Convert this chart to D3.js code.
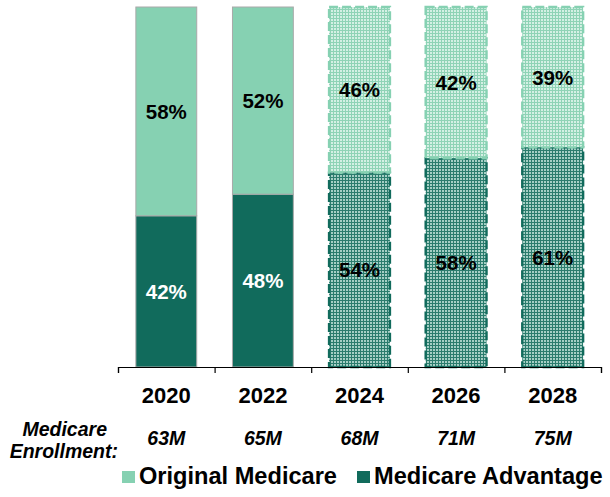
<!DOCTYPE html>
<html>
<head>
<meta charset="utf-8">
<script src="https://cdn.jsdelivr.net/npm/d3@7"></script>
<style>
  html, body { margin: 0; padding: 0; background: #fff; }
  svg { display: block; font-family: "Liberation Sans", Arial, sans-serif; }
</style>
</head>
<body>
<svg id="chart" width="610" height="497"></svg>
<script>
// Share of Medicare beneficiaries by coverage type, by year
const years = ["2020", "2022", "2024", "2026", "2028"];
const originalMedicare = [58, 52, 46, 42, 39];
const medicareAdvantage = [42, 48, 54, 58, 61];
const enrollment = ["63M", "65M", "68M", "71M", "75M"];
const projected = [false, false, true, true, true];
const seriesNames = ["Original Medicare", "Medicare Advantage"];

const colors = { om: "#86d1b2", ma: "#116b5c" };

const svg = d3.select("#chart");
const defs = svg.append("defs");

// Small-grid fills used for the projected years
function gridPattern(id, lineColor, cellColor) {
  const p = defs.append("pattern")
    .attr("id", id).attr("patternUnits", "userSpaceOnUse")
    .attr("width", 3).attr("height", 3);
  p.append("rect").attr("width", 3).attr("height", 3).attr("fill", lineColor);
  p.append("rect").attr("x", 1).attr("y", 1).attr("width", 2).attr("height", 2)
    .attr("fill", cellColor);
}
gridPattern("pat-om", "#8fd3b6", "#d4f0e4");
gridPattern("pat-ma", "#2b7c6d", "#a5cfc5");

const x = d3.scaleBand().domain(years).range([118, 601])
  .paddingInner(0.37).paddingOuter(0.185);
const y = d3.scaleLinear().domain([0, 100]).range([367, 7]);

const rows = years.map((yr, i) => ({
  year: yr, om: originalMedicare[i], ma: medicareAdvantage[i],
  proj: projected[i], enr: enrollment[i]
}));

const stack = d3.stack().keys(["ma", "om"])(rows);

const g = svg.append("g");
stack.forEach(layer => {
  const key = layer.key;
  const sel = g.selectAll(null).data(layer).enter();
  sel.append("rect")
    .attr("x", d => x(d.data.year))
    .attr("width", x.bandwidth())
    .attr("y", d => y(d[1]))
    .attr("height", d => y(d[0]) - y(d[1]))
    .attr("fill", d => d.data.proj ? `url(#pat-${key})` : colors[key])
    .attr("stroke", d => d.data.proj ? colors[key] : "#a9a9a9")
    .attr("stroke-width", d => d.data.proj ? 2.4 : 1)
    .attr("stroke-dasharray", d => d.data.proj ? "9,4" : null);
  sel.append("text")
    .attr("x", d => x(d.data.year) + x.bandwidth() / 2)
    .attr("y", d => (y(d[0]) + y(d[1])) / 2)
    .attr("dy", "0.36em")
    .attr("text-anchor", "middle")
    .attr("font-weight", "bold")
    .attr("font-size", 20.5)
    .attr("fill", d => (key === "ma" && !d.data.proj) ? "#fff" : "#000")
    .text(d => d.data[key] + "%");
});

// Category axis with ticks between the bars
const xb = d3.scaleLinear().domain([0, years.length]).range([118, 601]);
svg.append("g")
  .attr("transform", "translate(0,367)")
  .call(d3.axisBottom(xb).tickValues(d3.range(years.length + 1)).tickSize(6).tickSizeOuter(6).tickFormat(""))
  .call(a => a.selectAll("path, line").attr("stroke", "#000").attr("stroke-width", 1.2));

svg.append("g").selectAll("text").data(years).enter().append("text")
  .attr("x", d => x(d) + x.bandwidth() / 2)
  .attr("y", 403)
  .attr("text-anchor", "middle")
  .attr("font-weight", "bold")
  .attr("font-size", 22)
  .text(d => d);

// Enrollment row
const enrRow = svg.append("g").attr("font-weight", "bold").attr("font-style", "italic");
enrRow.selectAll("text").data(rows).enter().append("text")
  .attr("x", d => x(d.year) + x.bandwidth() / 2)
  .attr("y", 445)
  .attr("text-anchor", "middle")
  .attr("font-size", 19.5)
  .text(d => d.enr);
enrRow.append("text").attr("x", 107).attr("y", 436).attr("text-anchor", "end")
  .attr("font-size", 19.5).text("Medicare");
enrRow.append("text").attr("x", 118).attr("y", 458).attr("text-anchor", "end")
  .attr("font-size", 19.5).text("Enrollment:");

// Legend
const legend = svg.append("g");
const legendItems = [
  { name: seriesNames[0], color: colors.om, sx: 122, tx: 139 },
  { name: seriesNames[1], color: colors.ma, sx: 357, tx: 374 }
];
legendItems.forEach(it => {
  legend.append("rect").attr("x", it.sx).attr("y", 471).attr("width", 13).attr("height", 12)
    .attr("fill", it.color);
  legend.append("text").attr("x", it.tx).attr("y", 484)
    .attr("font-weight", "bold").attr("font-size", 23.6).text(it.name);
});
</script>
</body>
</html>
